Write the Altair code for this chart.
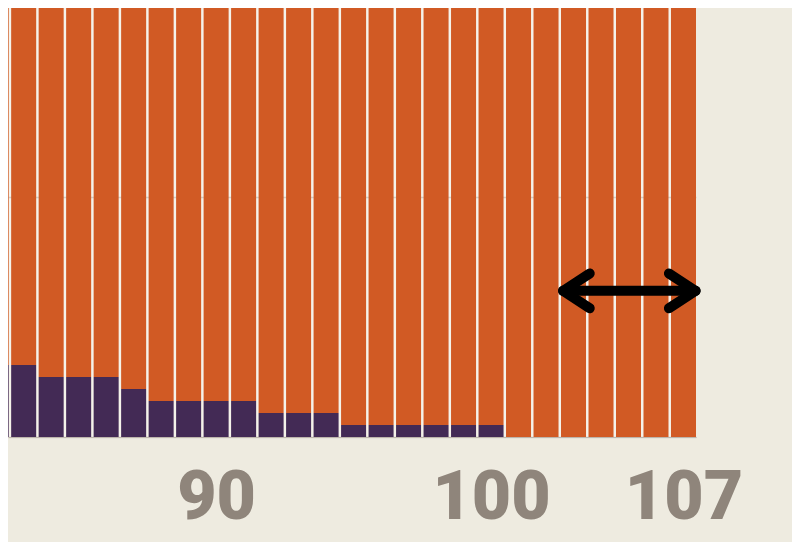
import altair as alt
import pandas as pd

# ---- data ----
ages = list(range(82, 108))
purple_vals = [6, 6, 5, 5, 5, 4, 3, 3, 3, 3, 2, 2, 2, 1, 1, 1, 1, 1, 1, 0, 0, 0, 0, 0, 0, 0]
total_vals = [40] * len(ages)
tick_labels = [90, 100, 107]
grid_values = [0, 20]
bar_half_width = 0.455  # in age units (bar fills ~91% of each year slot)

# annotation arrow (data units)
arrow_x = [102.62, 107.44]
arrow_y = 12.18
head_dx = 0.97
head_dy = 1.45

ORANGE = "#D15A24"
PURPLE = "#432A55"
BG = "#EEEBE0"
GAP = "#F5F2EA"
LABEL = "#8F857B"

rows = []
for a, p, t in zip(ages, purple_vals, total_vals):
    rows.append({"x0": a - bar_half_width, "x1": a + bar_half_width, "lo": 0, "hi": p, "series": "purple"})
    rows.append({"x0": a - bar_half_width, "x1": a + bar_half_width, "lo": p, "hi": t, "series": "orange"})
bars_df = pd.DataFrame(rows)

xa, xb = arrow_x
arrow_rows = [
    {"seg": "shaft", "i": 0, "x": xa, "y": arrow_y},
    {"seg": "shaft", "i": 1, "x": xb, "y": arrow_y},
    {"seg": "left", "i": 0, "x": xa + head_dx, "y": arrow_y + head_dy},
    {"seg": "left", "i": 1, "x": xa, "y": arrow_y},
    {"seg": "left", "i": 2, "x": xa + head_dx, "y": arrow_y - head_dy},
    {"seg": "right", "i": 0, "x": xb - head_dx, "y": arrow_y + head_dy},
    {"seg": "right", "i": 1, "x": xb, "y": arrow_y},
    {"seg": "right", "i": 2, "x": xb - head_dx, "y": arrow_y - head_dy},
]
arrow_df = pd.DataFrame(arrow_rows)

x_scale = alt.Scale(domain=[82.43, 107.455], nice=False, zero=False)
y_scale = alt.Scale(domain=[0, 35.75], nice=False, zero=True)

x_axis = alt.Axis(
    values=tick_labels,
    title=None,
    grid=False,
    ticks=False,
    tickSize=0,
    domain=True,
    domainColor="#BDB5AC",
    domainWidth=1,
    labelFont="Roboto",
    labelFontWeight=900,
    labelFontSize=68,
    labelColor=LABEL,
    labelBaseline="alphabetic",
    labelPadding=81,
    labelFlush=False,
    labelOverlap=False,
    labelBound=False,
    format="d",
)
y_axis = alt.Axis(
    values=grid_values,
    title=None,
    labels=False,
    ticks=False,
    domain=False,
    grid=True,
    gridColor="#D3CFC5",
    gridWidth=1.5,
)

bars = alt.Chart(bars_df).mark_bar(clip=True).encode(
    x=alt.X("x0:Q", scale=x_scale, axis=x_axis),
    x2="x1:Q",
    y=alt.Y("lo:Q", scale=y_scale, axis=y_axis),
    y2="hi:Q",
    color=alt.Color(
        "series:N",
        scale=alt.Scale(domain=["purple", "orange"], range=[PURPLE, ORANGE]),
        legend=None,
    ),
)

arrow = alt.Chart(arrow_df).mark_line(
    color="#000000", strokeWidth=10, strokeCap="round", strokeJoin="round"
).encode(
    x=alt.X("x:Q", scale=x_scale),
    y=alt.Y("y:Q", scale=y_scale),
    detail="seg:N",
    order="i:Q",
)

chart = (
    alt.layer(bars, arrow)
    .properties(
        width=688,
        height=429,
        padding={"left": 0, "top": 0, "right": 96, "bottom": 105},
        autosize=alt.AutoSizeParams(type="none"),
        background=BG,
    )
    .configure_view(stroke=None, fill=GAP)
)

chart.save("out.html", embed_options={"renderer": "svg", "actions": False})
